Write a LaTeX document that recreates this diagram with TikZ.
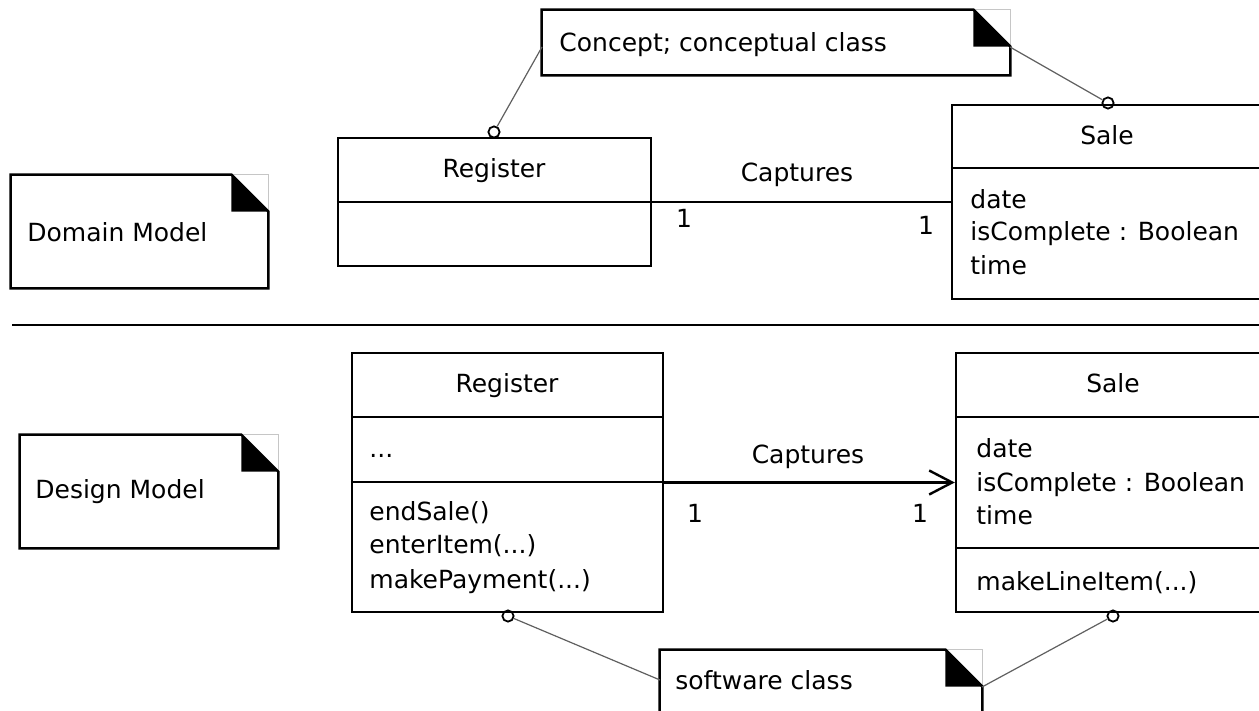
\documentclass[tikz,border=0pt]{standalone}
\usepackage{fontspec}
\setmainfont{DejaVu Sans}
\usetikzlibrary{fit,calc,arrows.meta}
\begin{document}
\begin{tikzpicture}[x=0.5pt,y=-0.5pt,
  box/.style={draw, line width=1.2pt, inner sep=0pt},
  notebox/.style={inner sep=0pt},
  divider/.style={line width=1.2pt},
  txt/.style={inner sep=0pt, anchor=base west, font=\fontsize{12.5}{15}\selectfont},
  ctxt/.style={inner sep=0pt, anchor=base, font=\fontsize{12.5}{15}\selectfont},
  ball/.style={circle, draw, line width=0.9pt, fill=white, minimum size=5.6pt, inner sep=0pt},
  anchorline/.style={draw=gray!75!black, line width=0.6pt},
  assoc/.style={line width=1.2pt},
]
\clip (0,0) rectangle (1259,711);
\fill[white] (0,0) rectangle (1259,711);

% ---------- notes ----------
\node[notebox, fit={(11,175)(268,288)}] (dm) {};
\node[notebox, fit={(20,435)(278,548)}] (gm) {};
\node[notebox, fit={(542,10)(1010,75)}] (cn) {};
\node[notebox, fit={(660,650)(982,740)}] (sc) {};
\foreach \n in {dm,gm,cn,sc} {
  \draw[gray!45, line width=0.4pt] ($(\n.north east)+(-37,0)$) -- (\n.north east) -- ($(\n.north east)+(0,37)$);
  \fill ($(\n.north east)+(-37,0)$) -- ($(\n.north east)+(-37,37)$) -- ($(\n.north east)+(0,37)$) -- cycle;
  \draw[line width=1.2pt] ($(\n.north east)+(-37,0)$) -- (\n.north west) -- (\n.south west) -- (\n.south east) -- ($(\n.north east)+(0,37)$) -- cycle;
}
\node[txt] (dmt) at (27,242) {Domain Model};
\node[txt] (gmt) at (35,498) {Design Model};
\node[txt] (cnt) at (559,52) {Concept; conceptual class};
\node[txt] (sct) at (675,689) {software class};

% ---------- separator ----------
\draw[line width=1.2pt] (12,325) -- (1259,325);

% ---------- domain model classes ----------
\node[ball] (b1) at (494,132) {};
\node[ball] (b2) at (1108,103) {};
\node[box, fit={(338,138)(651,266)}] (regD) {};
\draw[divider] (regD.west) -- (regD.east);
\node[ctxt] (regDt) at (494,178) {Register};

\node[box, fit={(952,105)(1262,299)}] (saleD) {};
\draw[divider] (saleD.west |- 0,168) -- (saleD.east |- 0,168);
\node[ctxt] (saleDt) at (1107,145) {Sale};
\node[txt] (saleDa1) at (970,209) {date};
\node[txt] (saleDa2) at (970,241) {isComplete : Boolean};
\node[txt] (saleDa3) at (970,275) {time};

\draw[assoc] (regD.east) -- (saleD.west);
\node[ctxt] (capD) at (797,182) {Captures};
\node[ctxt] (m1D) at (684,228) {1};
\node[ctxt] (m2D) at (926,235) {1};

% ---------- design model classes ----------
\node[ball] (b3) at (508,616) {};
\node[ball] (b4) at (1113,616) {};
\node[box, fit={(352,353)(663,612)}] (regG) {};
\draw[divider] (regG.west |- 0,417) -- (regG.east |- 0,417);
\draw[divider] (regG.west |- 0,482) -- (regG.east |- 0,482);
\node[ctxt] (regGt) at (507,393) {Register};
\node[txt] (regGa) at (369,458) {...};
\node[txt] (regGo1) at (369,520) {endSale()};
\node[txt] (regGo2) at (369,553) {enterItem(...)};
\node[txt] (regGo3) at (369,588) {makePayment(...)};

\node[box, fit={(956,353)(1270,612)}] (saleG) {};
\draw[divider] (saleG.west |- 0,417) -- (saleG.east |- 0,417);
\draw[divider] (saleG.west |- 0,548) -- (saleG.east |- 0,548);
\node[ctxt] (saleGt) at (1113,393) {Sale};
\node[txt] (saleGa1) at (976,458) {date};
\node[txt] (saleGa2) at (976,491) {isComplete : Boolean};
\node[txt] (saleGa3) at (976,524) {time};
\node[txt] (saleGo1) at (976,590) {makeLineItem(...)};

\draw[assoc, -{Straight Barb[length=11.5pt, width=12pt, line width=1.2pt]}] (regG.east) -- (saleG.west);
\node[ctxt] (capG) at (808,463) {Captures};
\node[ctxt] (m1G) at (695,522) {1};
\node[ctxt] (m2G) at (920,522) {1};

% ---------- note anchors ----------
\coordinate (cnL) at (542,47);
\coordinate (cnR) at (1010,47);
\coordinate (scL) at (660,680);
\coordinate (scR) at (982,687);
\draw[anchorline] (b1) -- (cnL);
\draw[anchorline] (b2) -- (cnR);
\draw[anchorline] (b3) -- (scL);
\draw[anchorline] (b4) -- (scR);
\end{tikzpicture}
\end{document}
